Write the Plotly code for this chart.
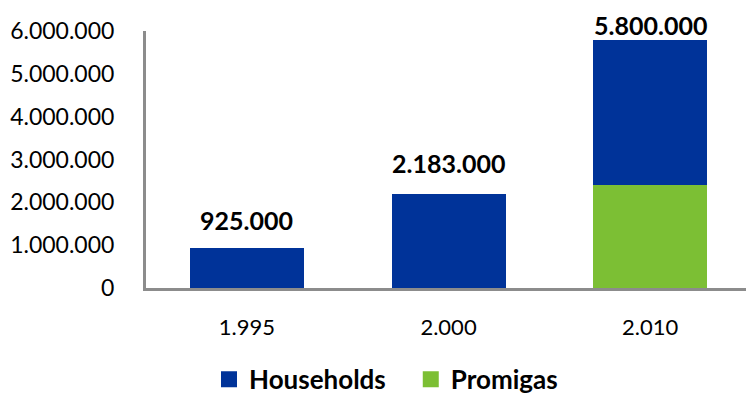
import plotly.graph_objects as go

years = ["1.995", "2.000", "2.010"]
households = [925000, 2183000, 3400000]
promigas = [0, 0, 2400000]
total_labels = ["925.000", "2.183.000", "5.800.000"]
ytick_vals = [0, 1000000, 2000000, 3000000, 4000000, 5000000, 6000000]
ytick_text = ["0", "1.000.000", "2.000.000", "3.000.000", "4.000.000", "5.000.000", "6.000.000"]

BLUE = "#003399"
GREEN = "#7CBF34"
FONT = "Lato"
label_shift = [11, 14, -2]

fig = go.Figure()
fig.add_trace(go.Bar(x=years, y=promigas, name="Promigas", showlegend=False,
                     marker=dict(color=GREEN, line=dict(width=0))))
fig.add_trace(go.Bar(x=years, y=households, name="Households", showlegend=False,
                     marker=dict(color=BLUE, line=dict(width=0))))
# legend entries with larger square swatches
fig.add_trace(go.Scatter(x=[None], y=[None], mode="markers", name="<b>Households</b>\u00a0\u00a0\u00a0",
                         marker=dict(symbol="square", size=16, color=BLUE), legendrank=1))
fig.add_trace(go.Scatter(x=[None], y=[None], mode="markers", name="<b>Promigas</b>",
                         marker=dict(symbol="square", size=16, color=GREEN), legendrank=2))

totals = [h + p for h, p in zip(households, promigas)]
for i, (t, lab) in enumerate(zip(totals, total_labels)):
    fig.add_annotation(x=i, y=t, text="<b>" + lab + "</b>", showarrow=False,
                       yanchor="bottom", yshift=label_shift[i],
                       font=dict(family=FONT, size=25, color="#000"))

fig.update_layout(
    width=746, height=398,
    margin=dict(l=146, r=0, t=31, b=110, autoexpand=False),
    barmode="stack", bargap=0.435,
    paper_bgcolor="white", plot_bgcolor="white",
    font=dict(family=FONT, size=23, color="#000"),
    showlegend=True,
    legend=dict(orientation="h", x=0.4, xanchor="center", y=-0.355, yanchor="middle",
                font=dict(family=FONT, size=26, color="#000"), traceorder="normal",
                bgcolor="rgba(0,0,0,0)", itemwidth=30),
    xaxis=dict(type="category", range=[-0.5, 2.475], showline=True, linecolor="#8c8c8c", linewidth=3,
               ticks="", showgrid=False, ticklabelstandoff=18, tickfont=dict(size=22)),
    yaxis=dict(range=[0, 6000000], tickvals=ytick_vals, ticktext=ytick_text, showline=True,
               linecolor="#8c8c8c", linewidth=3, showgrid=False, zeroline=False, ticks="",
               ticklabelstandoff=24, tickfont=dict(size=23)),
)

fig.write_html("out.html")
